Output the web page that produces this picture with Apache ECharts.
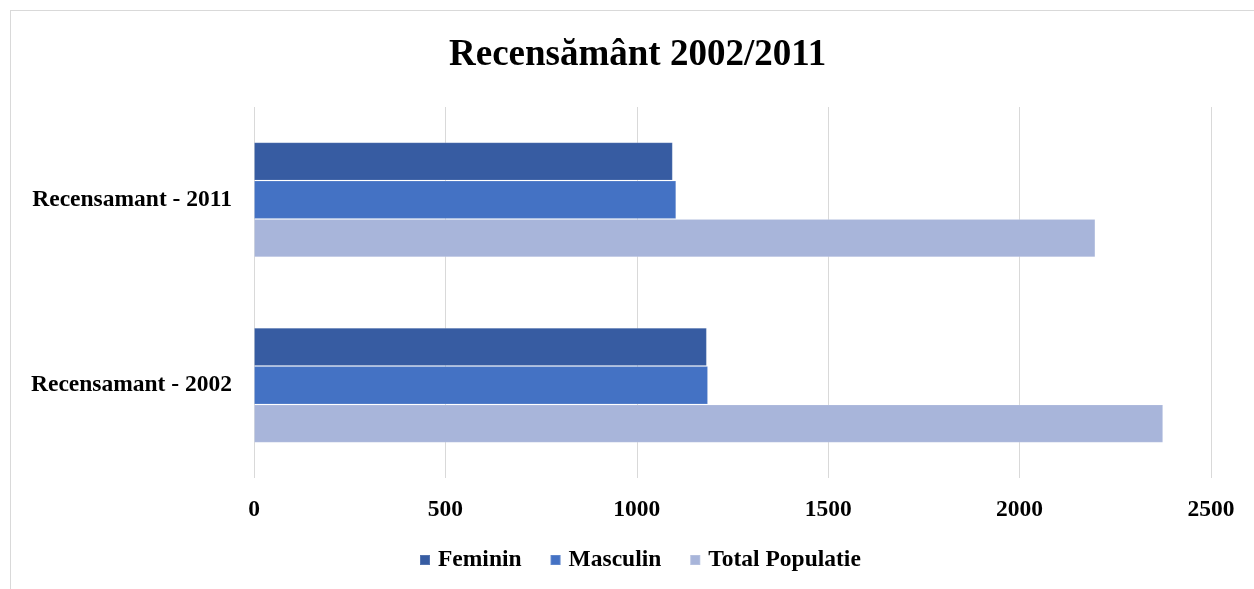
<!DOCTYPE html>
<html>
<head>
<meta charset="utf-8">
<script src="https://cdn.jsdelivr.net/npm/echarts@6/dist/echarts.min.js"></script>
<style>
  html, body { margin: 0; padding: 0; background: #fff; }
  #frame { position: absolute; left: 10px; top: 10px; width: 1270px; height: 610px; border: 1px solid #d9d9d9; }
  #chart { position: absolute; left: 0; top: 0; width: 1254px; height: 589px; }
</style>
</head>
<body>
<div id="frame"></div>
<div id="chart"></div>
<script>
const categories = ['Recensamant - 2002', 'Recensamant - 2011']
const feminin = [1183, 1094]
const masculin = [1186, 1103]
const totalPopulatie = [2375, 2198]
const xTicks = [0, 500, 1000, 1500, 2000, 2500]

const font = '"Liberation Serif", "Times New Roman", serif'

const chart = echarts.init(document.getElementById('chart'), null, { renderer: 'canvas' })

function bar(name, data, color) {
  return {
    name,
    type: 'bar',
    data,
    barGap: '0%',
    barCategoryGap: '38%',
    itemStyle: { color, borderColor: 'rgba(255,255,255,0.15)', borderWidth: 1 },
    emphasis: { disabled: true },
  }
}

chart.setOption({
  backgroundColor: 'transparent',
  animation: false,
  title: {
    text: 'Recensământ 2002/2011',
    left: 449,
    top: 37,
    padding: 0,
    textStyle: { fontFamily: font, fontSize: 37, fontWeight: 'bold', color: '#000' },
  },
  legend: {
    data: ['Feminin', 'Masculin', 'Total Populatie'],
    left: 419,
    top: 548,
    padding: 0,
    itemWidth: 10,
    itemHeight: 10,
    itemGap: 28,
    icon: 'rect',
    textStyle: { fontFamily: font, fontSize: 23.5, fontWeight: 'bold', color: '#000', padding: [0, 0, 0, 3] },
  },
  grid: { left: 254, right: 43, top: 107, bottom: 111 },
  xAxis: {
    type: 'value',
    min: xTicks[0],
    max: xTicks[xTicks.length - 1],
    interval: 500,
    axisLine: { show: false },
    axisTick: { show: false },
    splitLine: { lineStyle: { color: '#d9d9d9', width: 1 } },
    axisLabel: {
      margin: 20,
      formatter: v => String(v),
      fontFamily: font, fontSize: 23.5, fontWeight: 'bold', color: '#000',
    },
  },
  yAxis: {
    type: 'category',
    data: categories,
    axisLine: { show: false },
    axisTick: { show: false },
    axisLabel: { margin: 22, fontFamily: font, fontSize: 23.5, fontWeight: 'bold', color: '#000' },
  },
  series: [
    bar('Feminin', feminin, '#375ca2'),
    bar('Masculin', masculin, '#4472c4'),
    bar('Total Populatie', totalPopulatie, '#a8b5da'),
  ],
})
</script>
</body>
</html>
